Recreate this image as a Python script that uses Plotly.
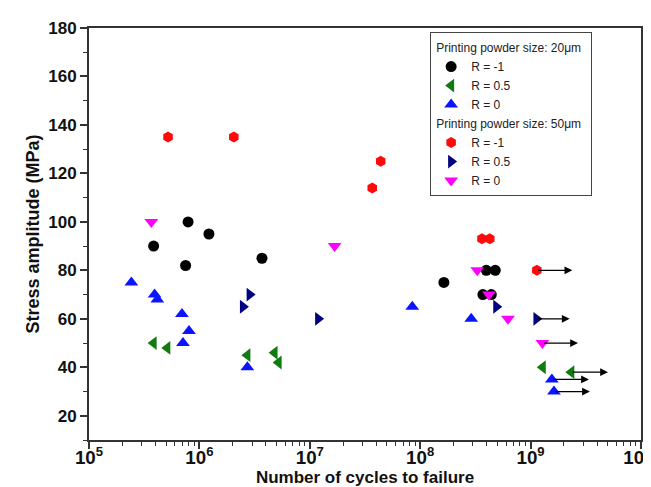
import numpy as np
import plotly.graph_objects as go

# ---- data ----
# Printing powder size 20 um
x20_rm1 = [3.85e5, 7.9e5, 7.5e5, 1.22e6, 3.69e6, 1.64e8, 3.7e8, 4.41e8, 3.97e8, 4.79e8]
y20_rm1 = [90, 100, 82, 95, 85, 75, 70, 70, 80, 80]
x20_r05 = [3.85e5, 5.12e5, 2.72e6, 4.8e6, 5.22e6, 1.29e9, 2.34e9]
y20_r05 = [50, 48, 45, 46, 42, 40, 38]
x20_r0 = [2.42e5, 3.93e5, 4.16e5, 6.95e5, 8.05e5, 7.1e5, 2.72e6, 8.48e7, 2.9e8, 1.56e9, 1.63e9]
y20_r0 = [75, 70, 68, 62, 55, 50, 40, 65, 60, 35, 30]
# Printing powder size 50 um
x50_rm1 = [5.2e5, 2.05e6, 3.68e7, 4.39e7, 3.63e8, 4.27e8, 1.14e9]
y50_rm1 = [135, 135, 114, 125, 93, 93, 80]
x50_r05 = [2.48e6, 2.85e6, 1.19e7, 4.89e8, 1.13e9]
y50_r05 = [65, 70, 60, 65, 60]
x50_r0 = [3.67e5, 1.68e7, 3.29e8, 4.2e8, 6.24e8, 1.28e9]
y50_r0 = [100, 90, 80, 70, 60, 50]
# run-out arrows
run_x0 = [1.14e9, 1.13e9, 1.28e9, 2.34e9, 1.56e9, 1.63e9]
run_x1 = [2.39e9, 2.26e9, 2.69e9, 5.03e9, 3.38e9, 3.45e9]
run_y = [80, 60, 50, 38, 35, 30]

FONT = "Arial, Liberation Sans, sans-serif"

fig = go.Figure()

series = [
    ("g20", "Printing powder size: 20\u03bcm", "R = -1", x20_rm1, y20_rm1, "circle", "#000000", 11),
    ("g20", "Printing powder size: 20\u03bcm", "R = 0.5", x20_r05, y20_r05, "triangle-left", "#107c10", 12),
    ("g20", "Printing powder size: 20\u03bcm", "R = 0", x20_r0, y20_r0, "triangle-up", "#0a14ff", 12),
    ("g50", "Printing powder size: 50\u03bcm", "R = -1", x50_rm1, y50_rm1, "hexagon", "#ff0a0a", 11),
    ("g50", "Printing powder size: 50\u03bcm", "R = 0.5", x50_r05, y50_r05, "triangle-right", "#000080", 12),
    ("g50", "Printing powder size: 50\u03bcm", "R = 0", x50_r0, y50_r0, "triangle-down", "#ff00ff", 12),
]
for grp, gtitle, name, xs, ys, sym, col, sz in series:
    fig.add_trace(go.Scatter(
        x=xs, y=ys, mode="markers", name=name,
        legendgroup=grp,
        legendgrouptitle=dict(text=gtitle, font=dict(family=FONT, size=12, color="#222")),
        marker=dict(symbol=sym, color=col, size=sz, line=dict(width=0)),
    ))

for x0, x1, yv in zip(run_x0, run_x1, run_y):
    fig.add_annotation(
        x=np.log10(x1), y=yv, ax=np.log10(x0), ay=yv,
        xref="x", yref="y", axref="x", ayref="y",
        text="", showarrow=True, arrowhead=2, arrowsize=1.3, arrowwidth=1.2,
        arrowcolor="#000000",
    )

axis_common = dict(
    showgrid=False, zeroline=False, showline=True, linecolor="#333", linewidth=1.8,
    mirror=True, ticks="outside", tickcolor="#333", tickwidth=1.5, ticklen=7,
    automargin=False,
)

fig.update_xaxes(
    type="log", range=[5, 10.0005], tickmode="linear", tick0=0, dtick=1,
    exponentformat="power", showexponent="all",
    tickfont=dict(family=FONT, size=15, color="#111", weight="bold"),
    ticklabelstandoff=-7, ticklabeloverflow="allow",
    minor=dict(dtick="D1", ticks="outside", ticklen=4, tickcolor="#333", tickwidth=1.2),
    title=dict(text="Number of cycles to failure",
               font=dict(family=FONT, size=17, color="#111", weight="bold"), standoff=0),
    **axis_common,
)
fig.update_yaxes(
    range=[10, 180], tickmode="linear", tick0=0, dtick=20,
    tickfont=dict(family=FONT, size=17, color="#111", weight="bold"),
    minor=dict(tick0=0, dtick=10, ticks="outside", ticklen=4, tickcolor="#333", tickwidth=1.2),
    title=dict(text="Stress amplitude (MPa)",
               font=dict(family=FONT, size=18, color="#111", weight="bold"), standoff=4),
    **axis_common,
)

fig.update_layout(
    width=651, height=487,
    margin=dict(l=81, r=18, t=20, b=55),
    paper_bgcolor="white", plot_bgcolor="white",
    showlegend=True,
    legend=dict(
        x=0.618, y=0.99, xanchor="left", yanchor="top",
        bordercolor="#444", borderwidth=1, bgcolor="white",
        font=dict(family=FONT, size=12, color="#222"),
        tracegroupgap=0, itemsizing="trace",
    ),
)

fig.write_html("out.html")
